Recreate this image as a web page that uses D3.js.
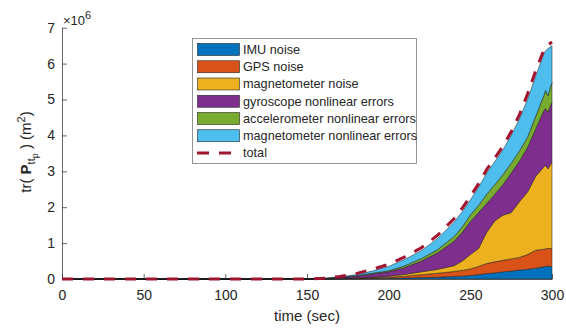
<!DOCTYPE html>
<html>
<head>
<meta charset="utf-8">
<script src="https://cdn.jsdelivr.net/npm/d3@7"></script>
<style>
  body { margin: 0; background: #fff; }
  svg { display: block; }
  text { font-family: "Liberation Sans", Arial, Helvetica, sans-serif; fill: #262626; }
</style>
</head>
<body>
<svg id="chart" width="566" height="331"></svg>
<script>
// time axis (sec) and each error source, in units of 10^6 m^2 (not cumulative)
const times       = [0, 150, 160, 170, 180, 190, 200, 210, 220, 230, 240, 245, 250, 255, 260, 265, 270, 275, 280, 285, 290, 295, 296, 297.5, 300];
const imuNoise    = [0, 0, .001, .004, .008, .013, .02, .03, .04, .05, .07, .08, .10, .12, .15, .17, .20, .22, .25, .27, .30, .34, .35, .36, .34];
const gpsNoise    = [0, 0, .002, .006, .012, .022, .03, .05, .08, .11, .14, .16, .18, .23, .28, .31, .32, .34, .35, .41, .50, .49, .49, .49, .51];
const magNoise    = [0, 0, .001, .005, .010, .015, .03, .05, .08, .11, .16, .26, .40, .50, .87, 1.14, 1.26, 1.29, 1.55, 1.74, 2.06, 2.29, 2.33, 2.22, 2.41];
const gyroNonlin  = [0, 0, .006, .025, .050, .090, .12, .19, .30, .46, .68, .80, .92, 1.00, .80, .74, .85, 1.10, 1.13, 1.24, 1.32, 1.57, 1.58, 1.58, 1.67];
const accelNonlin = [0, 0, .002, .005, .010, .020, .03, .05, .07, .09, .13, .15, .18, .20, .26, .27, .28, .27, .28, .29, .35, .42, .50, .46, .55];
const magNonlin   = [0, 0, .004, .015, .030, .060, .12, .18, .22, .31, .40, .42, .42, .50, .59, .64, .69, .78, .89, 1.05, 1.12, 1.16, 1.10, 1.31, 1.02];
const totalCov    = [0, 0, .02, .07, .15, .27, .41, .62, .87, 1.22, 1.68, 1.97, 2.30, 2.65, 3.05, 3.37, 3.70, 4.10, 4.57, 5.15, 5.80, 6.38, 6.45, 6.52, 6.60];

const seriesKeys   = ["imu", "gps", "mag", "gyro", "accel", "magnl"];
const seriesNames  = ["IMU noise", "GPS noise", "magnetometer noise", "gyroscope nonlinear errors",
                      "accelerometer nonlinear errors", "magnetometer nonlinear errors"];
const seriesColors = ["#0072BD", "#D95319", "#EDB120", "#7E2F8E", "#77AC30", "#4DBEEE"];
const totalName  = "total";
const totalColor = "#A2142F";

const xTicks = [0, 50, 100, 150, 200, 250, 300];
const yTicks = [0, 1, 2, 3, 4, 5, 6, 7];

const rows = times.map((t, i) => ({
  t: t, imu: imuNoise[i], gps: gpsNoise[i], mag: magNoise[i],
  gyro: gyroNonlin[i], accel: accelNonlin[i], magnl: magNonlin[i]
}));

const svg = d3.select("#chart");
const x = d3.scaleLinear().domain([0, 300]).range([62, 552]);
const y = d3.scaleLinear().domain([0, 7]).range([279, 27.7]);

// axes (drawn under the data, like matlab)
const xAxis = svg.append("g").attr("transform", "translate(0,279)")
  .call(d3.axisBottom(x).tickValues(xTicks).tickFormat(d3.format("d"))
    .tickSizeInner(-5).tickSizeOuter(0).tickPadding(11));
const yAxis = svg.append("g").attr("transform", "translate(62,0)")
  .call(d3.axisLeft(y).tickValues(yTicks).tickFormat(d3.format("d"))
    .tickSizeInner(-5).tickSizeOuter(0).tickPadding(7));
[xAxis, yAxis].forEach(g => {
  g.selectAll("path, line").attr("stroke", "#262626").attr("stroke-width", 0.7);
  g.selectAll("text").attr("font-size", 14).attr("fill", "#262626")
    .style("font-family", "'Liberation Sans', Arial, sans-serif");
});

// stacked areas
const stacked = d3.stack().keys(seriesKeys)(rows);
const area = d3.area()
  .x(d => x(d.data.t))
  .y0(d => y(d[0]))
  .y1(d => y(d[1]));
svg.append("g").selectAll("path")
  .data(stacked)
  .enter()
  .append("path")
  .attr("d", area)
  .attr("fill", (d, i) => seriesColors[i])
  .attr("stroke", "#1a1a1a")
  .attr("stroke-width", 0.5);

// total dashed line
const line = d3.line().x((d, i) => x(times[i])).y(d => y(d));
svg.append("path")
  .attr("d", line(totalCov))
  .attr("fill", "none")
  .attr("stroke", totalColor)
  .attr("stroke-width", 3)
  .attr("stroke-dasharray", "11,10");

// x10^6 exponent
const expo = svg.append("text").attr("x", 63).attr("y", 25).attr("font-size", 13);
expo.append("tspan").text("\u00d710");
expo.append("tspan").attr("dy", -6).attr("font-size", 11).text("6");

// axis labels
svg.append("text")
  .attr("x", 307).attr("y", 321)
  .attr("text-anchor", "middle")
  .attr("font-size", 15)
  .text("time (sec)");

const ylab = svg.append("text")
  .attr("transform", "translate(31,152) rotate(-90)")
  .attr("text-anchor", "middle")
  .attr("font-size", 15);
ylab.append("tspan").text("tr( ");
ylab.append("tspan").attr("font-weight", "bold").text("P");
ylab.append("tspan").attr("dy", 4).attr("font-size", 11).text("tt");
ylab.append("tspan").attr("dy", 3).attr("font-size", 9).text("p");
ylab.append("tspan").attr("dy", -7).text(" ) (m");
ylab.append("tspan").attr("dy", -6).attr("font-size", 11).text("2");
ylab.append("tspan").attr("dy", 6).text(")");

// legend
const lg = svg.append("g");
lg.append("rect")
  .attr("x", 192.5).attr("y", 38.5).attr("width", 224).attr("height", 125)
  .attr("fill", "#fff").attr("stroke", "#7a7a7a").attr("stroke-width", 0.8);
const rowY = i => 49.5 + 17.25 * i;
seriesNames.forEach((name, i) => {
  lg.append("rect")
    .attr("x", 197.5).attr("y", rowY(i) - 6).attr("width", 42).attr("height", 12)
    .attr("fill", seriesColors[i]).attr("stroke", "#262626").attr("stroke-width", 0.6);
  lg.append("text")
    .attr("x", 243).attr("y", rowY(i)).attr("dy", "0.35em")
    .attr("font-size", 12.7).text(name);
});
lg.append("line")
  .attr("x1", 197).attr("x2", 240).attr("y1", rowY(6)).attr("y2", rowY(6))
  .attr("stroke", totalColor).attr("stroke-width", 3).attr("stroke-dasharray", "12,10");
lg.append("text")
  .attr("x", 243).attr("y", rowY(6)).attr("dy", "0.35em")
  .attr("font-size", 12.7).text(totalName);
</script>
</body>
</html>
